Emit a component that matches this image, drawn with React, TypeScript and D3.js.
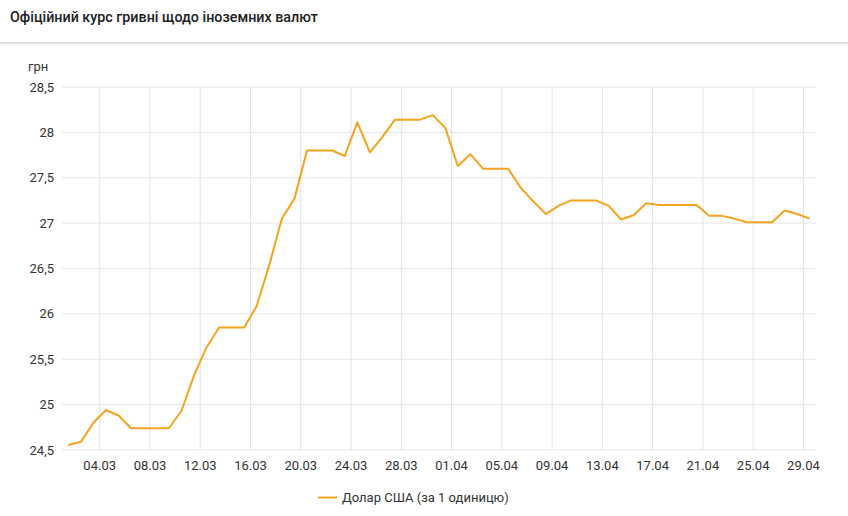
import React from 'react'
import * as d3 from 'd3'

// дати 01.03 – 29.04 (2020), курс USD
const dates = [
  '01.03', '02.03', '03.03', '04.03', '05.03', '06.03', '07.03', '08.03', '09.03', '10.03',
  '11.03', '12.03', '13.03', '14.03', '15.03', '16.03', '17.03', '18.03', '19.03', '20.03',
  '21.03', '22.03', '23.03', '24.03', '25.03', '26.03', '27.03', '28.03', '29.03', '30.03',
  '31.03', '01.04', '02.04', '03.04', '04.04', '05.04', '06.04', '07.04', '08.04', '09.04',
  '10.04', '11.04', '12.04', '13.04', '14.04', '15.04', '16.04', '17.04', '18.04', '19.04',
  '20.04', '21.04', '22.04', '23.04', '24.04', '25.04', '26.04', '27.04', '28.04', '29.04',
]

const usd = [
  24.555, 24.59, 24.8, 24.94, 24.88, 24.74, 24.74, 24.74, 24.74, 24.93,
  25.32, 25.63, 25.85, 25.85, 25.85, 26.09, 26.54, 27.05, 27.27, 27.8,
  27.8, 27.8, 27.74, 28.11, 27.78, 27.95, 28.14, 28.14, 28.14, 28.19,
  28.05, 27.63, 27.76, 27.6, 27.6, 27.6, 27.39, 27.24, 27.1, 27.19,
  27.25, 27.25, 27.25, 27.19, 27.04, 27.09, 27.22, 27.2, 27.2, 27.2,
  27.2, 27.08, 27.08, 27.05, 27.01, 27.01, 27.01, 27.14, 27.1, 27.05,
]

const yTicks = [24.5, 25, 25.5, 26, 26.5, 27, 27.5, 28, 28.5]
const xTickLabels = [
  '04.03', '08.03', '12.03', '16.03', '20.03', '24.03', '28.03', '01.04',
  '05.04', '09.04', '13.04', '17.04', '21.04', '25.04', '29.04',
]

const TITLE = 'Офіційний курс гривні щодо іноземних валют'
const SERIES = 'Долар США (за 1 одиницю)'
const UNIT = 'грн'

const W = 848
const H = 516
const LINE_COLOR = '#f4a41f'
const FONT = 'Roboto, "Noto Sans", sans-serif'

const parse = (s: string) => {
  const [d, m] = s.split('.').map(Number)
  return new Date(2020, m - 1, d)
}

export default function App() {
  const x = d3.scaleTime()
    .domain([new Date(2020, 2, 1), new Date(2020, 3, 30)])
    .range([62, 816])
  const y = d3.scaleLinear().domain([24.5, 28.5]).range([450, 87])

  const points = dates.map((d, i) => ({ t: d3.timeHour.offset(parse(d), 12), v: usd[i] }))
  const line = d3.line<{ t: Date; v: number }>()
    .x((d) => x(d.t))
    .y((d) => y(d.v))

  const fmt = (v: number) => String(v).replace('.', ',')
  const [x0, x1] = x.range()

  return (
    <svg
      width={W}
      height={H}
      style={{ position: 'fixed', left: 0, top: 0, background: '#fff', fontFamily: FONT }}
    >
      <defs>
        <linearGradient id="shadow" x1="0" y1="0" x2="0" y2="1">
          <stop offset="0" stopColor="#000" stopOpacity={0.12} />
          <stop offset="1" stopColor="#000" stopOpacity={0} />
        </linearGradient>
      </defs>

      {/* шапка */}
      <text x={10} y={22} fontSize={14.3} fontWeight={500} fill="#212121">{TITLE}</text>
      <rect x={0} y={42} width={W} height={1} fill="#dcdcdc" />
      <rect x={0} y={43} width={W} height={3} fill="url(#shadow)" />

      {/* сітка */}
      <g>
        {yTicks.map((t) => (
          <line key={t} x1={x0} x2={x1} y1={y(t)} y2={y(t)} stroke="#e6e6e6" strokeWidth={1} />
        ))}
        {xTickLabels.map((s) => (
          <line key={s} x1={x(parse(s))} x2={x(parse(s))} y1={y(28.5)} y2={y(24.5)} stroke="#e3e3e3" strokeWidth={1} />
        ))}
      </g>

      {/* підписи осей */}
      <text x={28} y={71} fontSize={13} fill="#333">{UNIT}</text>
      {yTicks.map((t) => (
        <text key={t} x={54} y={y(t)} dy="0.35em" textAnchor="end" fontSize={13} fill="#333">
          {fmt(t)}
        </text>
      ))}
      {xTickLabels.map((s) => (
        <text key={s} x={x(parse(s))} y={470} textAnchor="middle" fontSize={13} fill="#333">
          {s}
        </text>
      ))}

      <path d={line(points) || ''} fill="none" stroke={LINE_COLOR} strokeWidth={2} strokeLinejoin="round" />

      {/* легенда */}
      <line x1={318} x2={337} y1={497.5} y2={497.5} stroke={LINE_COLOR} strokeWidth={2} />
      <text x={342} y={502} fontSize={13} fill="#333">{SERIES}</text>
    </svg>
  )
}
